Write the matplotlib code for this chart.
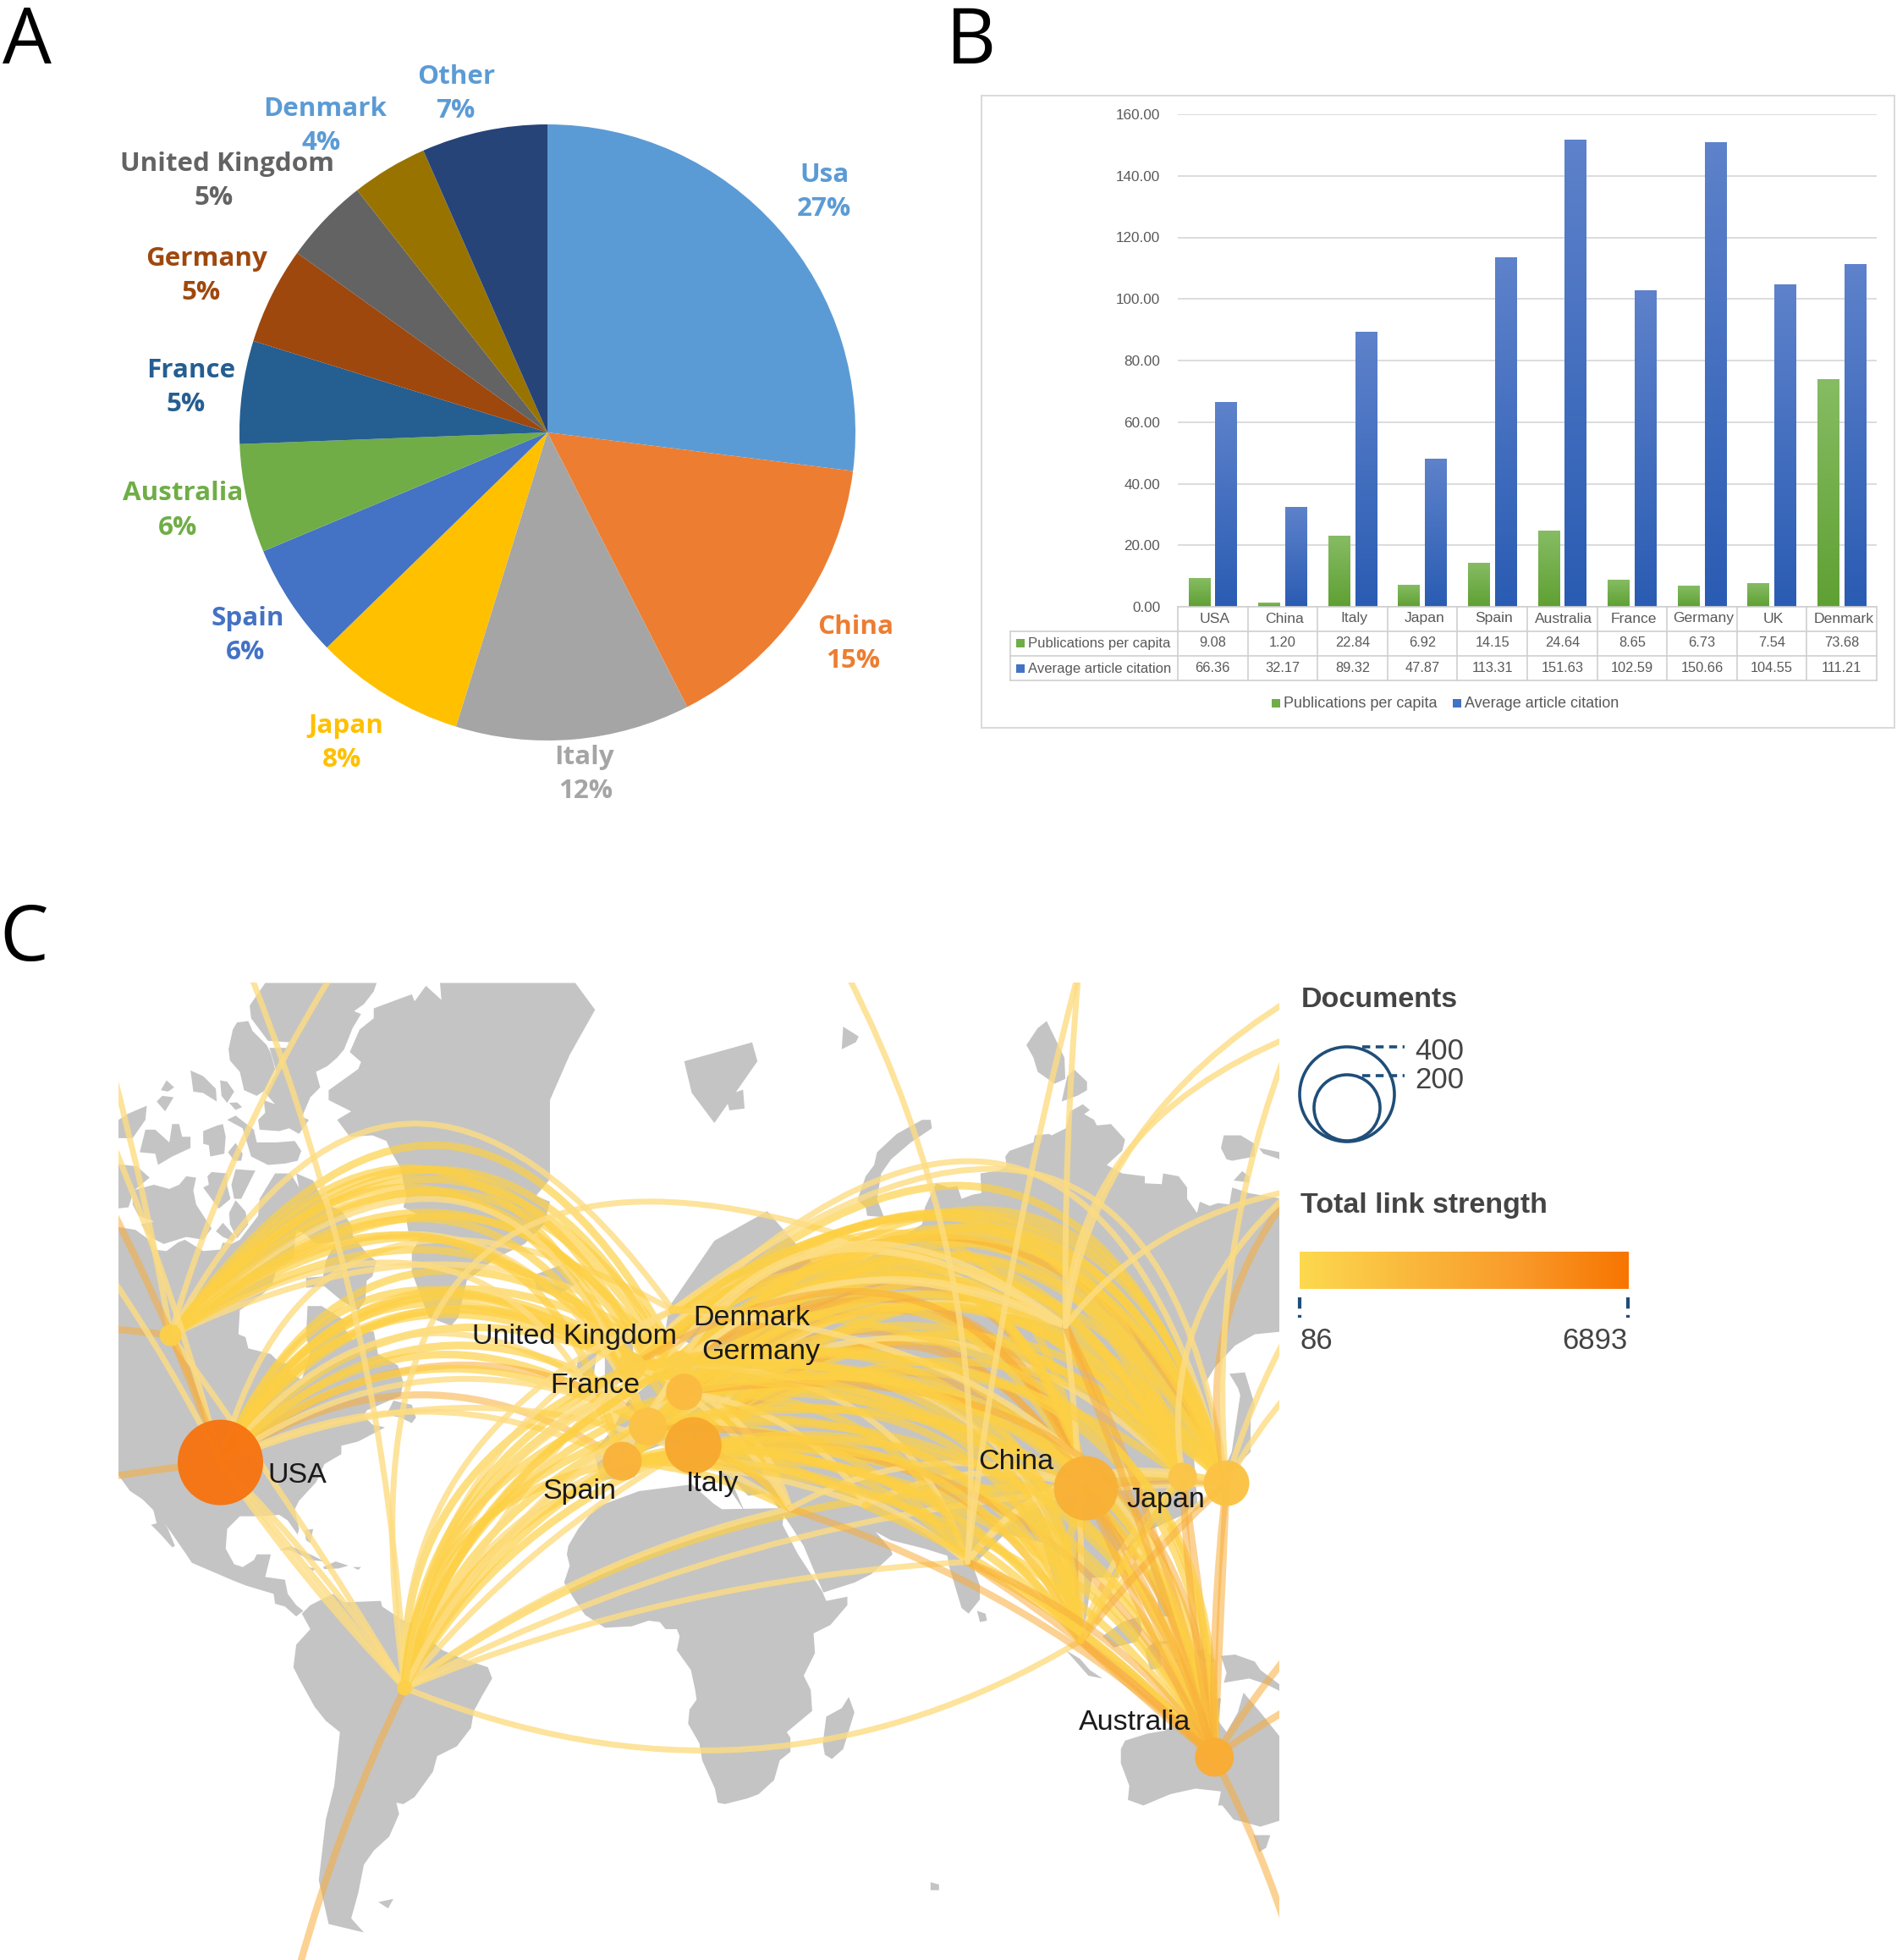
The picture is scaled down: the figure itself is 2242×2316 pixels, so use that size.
import numpy as np
import matplotlib
matplotlib.use("Agg")
import matplotlib.pyplot as plt
from matplotlib.path import Path
from matplotlib.patches import PathPatch, Polygon, Circle, Rectangle
from matplotlib.colors import LinearSegmentedColormap

W, H = 2242, 2316
plt.rcParams['font.family'] = ['Liberation Sans', 'DejaVu Sans']

# Panel A
pie_names = ['Usa', 'China', 'Italy', 'Japan', 'Spain', 'Australia', 'France', 'Germany',
             'United Kingdom', 'Denmark', 'Other']
pie_shares = [27.0, 15.5, 12.3, 7.9, 6.0, 5.7, 5.4, 5.1, 4.5, 4.0, 6.6]
pie_labels = [27, 15, 12, 8, 6, 6, 5, 5, 5, 4, 7]
pie_colors = ['#5B9BD5', '#ED7D31', '#A5A5A5', '#FFC000', '#4472C4', '#70AD47', '#255E91',
              '#9E480E', '#636363', '#997300', '#264478']
pie_label_colors = ['#5B9BD5', '#ED7D31', '#A5A5A5', '#FFC000', '#4472C4', '#70AD47', '#255E91',
                    '#9E480E', '#636363', '#5B9BD5', '#5B9BD5']
pie_name_xy = [(974, 207), (1011, 741), (690, 895), (409, 858), (293, 731), (216, 583),
               (226, 438), (244, 306), (268, 194), (384, 129), (539, 91)]
pie_pct_xy = [(974, 247), (1008, 781), (692, 935), (404, 898), (290, 771), (210, 624),
              (220, 478), (238, 346), (253, 234), (380, 169), (538, 131)]

# Panel B
countries = ['USA', 'China', 'Italy', 'Japan', 'Spain', 'Australia', 'France', 'Germany', 'UK', 'Denmark']
pubs_per_capita = [9.08, 1.20, 22.84, 6.92, 14.15, 24.64, 8.65, 6.73, 7.54, 73.68]
avg_citation = [66.36, 32.17, 89.32, 47.87, 113.31, 151.63, 102.59, 150.66, 104.55, 111.21]


def crop(ox, oy, pts):
    return [((ox + x / 3 - 130) / 0.893, (oy + y / 3 - 1150) / 0.744) for x, y in pts]


def a(pts):
    return crop(140, 1160, pts)


def b(pts):
    return crop(140, 1650, pts)


def c(pts):
    return crop(1010, 1160, pts)


def d(pts):
    return crop(1010, 1800, pts)


def e(pts):
    return crop(600, 1780, pts)


land_polys = [
    # north america
    a([(-60, 870), (0, 870), (60, 880), (115, 920), (125, 950), (170, 955), (210, 925), (235, 915), (300, 955),
       (360, 950), (370, 925), (400, 930), (430, 915), (495, 830), (500, 770), (555, 680), (610, 680), (640, 730),
       (630, 680), (690, 705), (730, 790), (790, 810), (830, 870), (830, 900), (885, 970), (915, 990), (900, 1045),
       (880, 1060), (875, 1130), (850, 1165), (790, 1130), (730, 1080), (665, 1085), (665, 1050), (725, 1045),
       (735, 990), (770, 920), (700, 930), (660, 895), (630, 880), (620, 980), (560, 1020), (545, 1070), (520, 1100),
       (480, 1130), (430, 1165), (425, 1250), (450, 1260), (460, 1300), (540, 1320), (570, 1350), (610, 1355),
       (610, 1390), (650, 1410), (680, 1310), (665, 1260), (670, 1150), (720, 1150), (800, 1200), (805, 1235),
       (830, 1270), (880, 1240), (905, 1240), (920, 1320), (990, 1360), (1010, 1420), (1000, 1470)])
    + b([(960, 15), (880, 50), (870, 70), (900, 100), (945, 110), (850, 160), (790, 175), (790, 205), (730, 240),
         (700, 305), (640, 370), (625, 400), (640, 470), (635, 490), (600, 440), (570, 420), (500, 425), (430, 425),
         (385, 470), (380, 540), (410, 595), (440, 605), (480, 580), (490, 560), (540, 560), (520, 640), (590, 650),
         (600, 700), (630, 740), (655, 760), (630, 780), (590, 745), (555, 735), (550, 700), (450, 670), (400, 650),
         (260, 590), (240, 560), (185, 480), (140, 420), (85, 365), (40, 335), (0, 280), (-60, 280)]),
    b([(120, 390), (135, 400), (175, 470), (200, 530), (190, 535), (150, 490), (115, 455), (135, 450)]),
    b([(950, 65), (975, 15), (1040, 30), (1055, 75), (1040, 95), (1000, 75)]),
    b([(570, 545), (610, 530), (680, 560), (730, 585), (680, 580), (610, 545)]),
    b([(725, 605), (770, 585), (815, 600), (780, 610), (730, 612)]),
    b([(668, 605), (700, 610), (690, 618)]),
    b([(830, 605), (860, 605), (850, 615)]),
    b([(660, 475), (690, 470), (680, 520), (665, 510)]),
    # south america
    b([(680, 740), (760, 700), (800, 730), (930, 725), (935, 745), (1010, 795), (1060, 810), (1085, 850), (1150, 900),
       (1220, 930), (1310, 960), (1325, 1000), (1290, 1060), (1260, 1115), (1250, 1175), (1200, 1240), (1130, 1275),
       (1115, 1330), (1050, 1420), (1010, 1445), (985, 1440), (995, 1480), (960, 1560), (905, 1610), (870, 1660),
       (850, 1760), (825, 1850), (870, 1900), (745, 1870), (710, 1715), (735, 1500), (765, 1380), (785, 1190),
       (735, 1150), (695, 1100), (640, 1000), (620, 960), (630, 880), (680, 825), (650, 770)]),
    # greenland
    a([(905, 95), (905, 130), (855, 170), (820, 250), (860, 285), (850, 310), (745, 385), (745, 420), (825, 460),
       (775, 490), (820, 550), (900, 545), (950, 565), (965, 600), (1000, 660), (1020, 760), (1010, 800), (1060, 825),
       (1020, 840), (1030, 900), (1070, 905), (1040, 960), (1040, 1030), (1070, 1110), (1100, 1190), (1180, 1220),
       (1205, 1190), (1235, 1060), (1340, 980), (1440, 930), (1510, 860), (1530, 780), (1480, 760), (1530, 700),
       (1530, 420), (1600, 260), (1690, 100), (1620, 5), (1140, 5), (1145, 65), (1090, 15), (1050, 70), (1040, 45)]),
    # arctic islands
    a([(465, 85), (520, 5), (915, 5), (905, 35), (870, 80), (835, 105), (860, 115), (830, 165), (800, 240), (775, 270),
       (740, 300), (700, 320), (715, 375), (680, 410), (650, 480), (675, 490), (640, 540), (605, 520), (570, 530),
       (500, 525), (495, 490), (520, 465), (515, 420), (555, 435), (520, 395), (560, 320), (535, 235), (595, 235),
       (605, 215), (530, 210), (470, 130)]),
    a([(390, 240), (405, 170), (420, 145), (460, 140), (475, 175), (525, 225), (540, 255), (555, 310), (520, 385),
       (490, 405), (445, 385), (430, 320), (395, 280)]),
    a([(150, 385), (170, 350), (197, 375), (175, 390)]),
    a([(135, 425), (155, 405), (195, 410), (165, 460)]),
    a([(255, 315), (300, 335), (345, 380), (348, 425), (300, 395), (265, 390)]),
    a([(360, 350), (385, 355), (410, 390), (385, 430), (365, 405)]),
    a([(392, 430), (420, 428), (438, 445), (415, 455)]),
    a([(-60, 530), (30, 470), (100, 440), (95, 490), (50, 555), (-60, 555)]),
    a([(75, 605), (95, 525), (130, 525), (180, 570), (190, 505), (215, 505), (225, 550), (255, 550), (255, 590),
       (190, 620), (140, 650), (130, 610)]),
    a([(300, 530), (350, 510), (370, 505), (380, 550), (375, 610), (325, 620), (320, 580), (300, 575)]),
    a([(385, 490), (415, 475), (480, 525), (490, 570), (560, 570), (625, 565), (648, 600), (635, 635), (590, 645),
       (530, 650), (470, 620), (440, 520)]),
    a([(388, 605), (415, 572), (440, 610), (435, 635), (410, 635)]),
    a([(50, 740), (125, 720), (180, 735), (215, 720), (240, 690), (275, 695), (265, 740), (275, 790), (330, 875),
       (300, 915), (240, 905), (160, 930), (110, 905), (80, 860), (125, 850), (70, 830), (50, 790)]),
    a([(-60, 640), (65, 655), (110, 695), (55, 740), (35, 800), (-60, 810)]),
    a([(315, 690), (330, 675), (385, 680), (385, 725), (397, 770), (355, 805), (300, 730), (320, 720)]),
    a([(400, 720), (415, 665), (485, 670), (435, 770), (410, 770)]),
    a([(392, 820), (415, 775), (450, 815), (460, 860), (420, 910), (395, 860)]),
    a([(345, 885), (370, 855), (415, 905), (405, 920), (370, 905)]),
    # iceland, svalbard and the like
    [(560, 480), (600, 462), (622, 490), (592, 512), (565, 502)],
    [(760, 140), (790, 130), (850, 110), (857, 140), (800, 238), (770, 190)],
    [(815, 195), (838, 185), (840, 215), (820, 218)],
    c([(-40, 160), (0, 185), (15, 195), (5, 215), (-45, 240)]),
    c([(10, 775), (40, 690), (70, 650), (80, 605), (150, 540), (240, 490), (270, 490), (275, 520), (200, 570),
       (130, 630), (95, 680), (80, 770), (105, 835), (45, 830), (40, 800)]),
    c([(610, 225), (650, 165), (682, 140), (745, 270), (748, 345), (710, 362), (650, 320), (635, 270)]),
    c([(735, 425), (755, 335), (780, 312), (825, 355), (825, 385), (790, 405)]),
    c([(1300, 590), (1310, 545), (1370, 545), (1420, 575), (1420, 620), (1340, 635), (1320, 630)]),
    c([(1435, 590), (1510, 605), (1510, 630), (1450, 610)]),
    c([(1345, 705), (1375, 672), (1400, 690), (1400, 712)]),
    # eurasia
    [(740, 530), (800, 425), (870, 378), (930, 460), (1000, 455)]
    + c([(240, 860), (250, 800), (290, 715), (335, 730), (365, 725), (380, 770), (420, 755), (450, 750), (447, 680),
         (510, 670), (540, 655), (535, 620), (550, 600), (635, 570), (640, 545), (690, 540), (700, 545), (750, 520),
         (765, 460), (810, 435), (835, 455), (815, 470), (850, 490), (860, 510), (910, 505), (960, 560), (950, 600),
         (895, 650), (950, 680), (1030, 690), (1030, 715), (1090, 718), (1095, 680), (1150, 690), (1180, 730),
         (1180, 770), (1215, 820), (1225, 780), (1260, 795), (1290, 785), (1330, 790), (1340, 730), (1400, 750),
         (1520, 770), (1520, 1240), (1420, 1250), (1350, 1290), (1280, 1365), (1245, 1422)])
    + [(1475, 755), (1435, 770), (1440, 850), (1375, 885), (1335, 925), (1335, 960), (1300, 960), (1290, 1040),
       (1250, 970), (1235, 905), (1185, 890)]
    + d([(420, 150), (445, 220), (445, 270), (405, 320), (380, 300), (335, 150), (330, 115), (250, 90), (130, 60),
         (75, 30), (130, 95), (135, 110), (60, 180), (0, 210)])
    + e([(1120, 305), (1100, 260), (1050, 140), (1000, 62)])
    + [(870, 825), (845, 830), (820, 800), (840, 855), (790, 765), (740, 745), (705, 760), (695, 800), (650, 805),
       (640, 760), (665, 725), (685, 680), (735, 630), (760, 630), (770, 590), (735, 570)],
    c([(1330, 1390), (1385, 1385), (1420, 1500), (1400, 1560), (1360, 1440)]),
    # british isles
    [(655, 600), (690, 560), (695, 640), (655, 660)],
    [(620, 610), (645, 600), (640, 640), (615, 640)],
    # japan
    [(1500, 640), (1510, 700), (1510, 760), (1465, 815), (1485, 760)],
    # africa and madagascar
    e([(320, 0), (290, 30), (250, 80), (215, 140), (210, 170), (220, 210), (200, 270), (240, 335), (275, 385),
       (345, 430), (440, 425), (500, 405), (540, 410), (560, 435), (600, 435), (610, 460), (600, 510), (650, 580),
       (665, 650), (670, 685), (645, 720), (640, 770), (680, 840), (690, 900), (735, 1000), (745, 1050), (770, 1055),
       (850, 1035), (890, 1020), (945, 970), (965, 900), (1003, 870), (1003, 820), (990, 800), (1050, 750),
       (1080, 725), (1075, 650), (1050, 600), (1090, 520), (1085, 450), (1145, 420), (1205, 350), (1205, 320),
       (1130, 335), (1115, 300), (1030, 170), (975, 65), (981, 6), (760, 10), (730, -10), (654, -78), (465, -54)]),
    e([(1130, 745), (1185, 715), (1210, 675), (1230, 730), (1190, 860), (1150, 895), (1125, 880), (1118, 840)]),
    # south east asia
    d([(435, 310), (465, 320), (470, 345), (445, 350)]),
    d([(750, 450), (800, 480), (835, 520), (880, 550), (830, 540)]),
    d([(1135, 485), (1205, 480), (1205, 490), (1140, 490)]),
    d([(880, 400), (950, 350), (1010, 330), (1020, 380), (1000, 420), (920, 440)]),
    d([(1030, 450), (1070, 415), (1120, 420), (1080, 435), (1090, 510), (1050, 520)]),
    d([(1040, 180), (1055, 150), (1085, 180), (1120, 260), (1135, 330), (1080, 330), (1075, 270)]),
    d([(760, 240), (810, 300), (800, 330), (770, 290)]),
    d([(1300, 470), (1350, 465), (1420, 490), (1440, 520), (1520, 580), (1520, 600), (1460, 570), (1400, 550),
       (1310, 565), (1320, 530)]),
    d([(1205, 450), (1245, 445), (1280, 490), (1240, 495)]),
    # australia and small ones
    d([(945, 800), (960, 770), (1040, 745), (1100, 735), (1160, 690), (1200, 620), (1300, 620), (1290, 700),
       (1320, 740), (1360, 670), (1380, 600), (1440, 670), (1520, 770), (1520, 1050), (1440, 1075), (1385, 1060),
       (1345, 1050), (1305, 1000), (1290, 1000), (1300, 950), (1210, 940), (1120, 960), (1025, 1000), (970, 980),
       (975, 930), (945, 850)]),
    d([(1415, 1105), (1475, 1105), (1460, 1150), (1435, 1165)]),
    d([(270, 1272), (300, 1280), (300, 1300), (270, 1300)]),
    [(355, 1475), (375, 1470), (368, 1485)],
]

node_xy = {'USA': (146, 777), 'CAN': (80, 575), 'BRA': (390, 1135), 'UK': (690, 625), 'DNK': (755, 620),
           'GER': (760, 665), 'FRA': (712, 720), 'ITA': (772, 750), 'ESP': (678, 775), 'NLD': (722, 640),
           'SWE': (745, 535), 'CHN': (1292, 818), 'JPN': (1478, 810), 'KOR': (1420, 800), 'AUS': (1462, 1245),
           'SGP': (1285, 1060), 'IND': (1135, 935), 'ISR': (900, 850), 'SAU': (1000, 845), 'RUS': (1265, 560),
           'T1': (185, 0), 'T2': (295, 0), 'T3': (975, 0), 'T4': (1282, 0), 'R1': (1565, 40), 'R2': (1565, 100),
           'R3': (1565, 345), 'R4': (1565, 560), 'R5': (1565, 660), 'R6': (1565, 1075), 'R7': (1565, 1165),
           'R8': (1565, 1545), 'L1': (0, 140), 'L2': (0, 260), 'L3': (0, 370), 'L4': (0, 480), 'L5': (0, 565),
           'L6': (0, 800), 'B1': (250, 1580)}
nodes_drawn = ['USA', 'CAN', 'BRA', 'UK', 'DNK', 'GER', 'FRA', 'ITA', 'ESP', 'CHN', 'JPN', 'KOR', 'AUS']
node_diam = [101, 26, 18, 34, 30, 43, 45, 67, 46, 76, 54, 34, 46]
node_colors = ['#F67411', '#FCD04A', '#FCD04A', '#FCCF4B', '#FCCF4B', '#FBBB40', '#FBC245', '#F7A92F',
               '#FAB33B', '#F9B136', '#FBC243', '#FBC548', '#FAAD33']
map_labels = [('United Kingdom', 615, 578), ('Denmark', 849, 548), ('Germany', 862, 601), ('France', 642, 655),
              ('USA', 248, 798), ('Spain', 621, 823), ('Italy', 797, 811), ('China', 1199, 776),
              ('Japan', 1398, 837), ('Australia', 1357, 1190)]

# links: from, to, bulge, strength (1 pale, 2 stronger, 3 orange)
links_usa = [('USA', 'UK', .55, 2), ('USA', 'DNK', .72, 2), ('USA', 'GER', .6, 2), ('USA', 'NLD', .58, 2),
             ('USA', 'FRA', .5, 2), ('USA', 'ITA', .45, 3), ('USA', 'ESP', .4, 3), ('USA', 'SWE', .72, 1),
             ('USA', 'ISR', .32, 1), ('USA', 'UK', .7, 2), ('USA', 'GER', .5, 2), ('USA', 'FRA', .62, 1),
             ('USA', 'ITA', .55, 2), ('USA', 'ESP', .3, 1), ('USA', 'BRA', .05, 1), ('USA', 'BRA', .0, 1),
             ('USA', 'BRA', -.04, 1), ('USA', 'CAN', .05, 3), ('USA', 'UK', .62, 2), ('USA', 'NLD', .66, 2),
             ('USA', 'GER', .67, 2), ('USA', 'DNK', .62, 2), ('USA', 'FRA', .42, 2), ('USA', 'ITA', .38, 1)]
links_can = [('CAN', 'UK', .85, 2), ('CAN', 'DNK', .96, 2), ('CAN', 'GER', .9, 2), ('CAN', 'NLD', .8, 2),
             ('CAN', 'FRA', .72, 1), ('CAN', 'ITA', .78, 2), ('CAN', 'ESP', .68, 1), ('CAN', 'SWE', .95, 1),
             ('CAN', 'ISR', .56, 1), ('CAN', 'UK', .6, 2), ('CAN', 'GER', .7, 2), ('CAN', 'DNK', .8, 2),
             ('CAN', 'ITA', .62, 2), ('CAN', 'FRA', .9, 1), ('CAN', 'BRA', .02, 1), ('CAN', 'NLD', .92, 2),
             ('CAN', 'ESP', .82, 2), ('CAN', 'UK', .95, 2), ('CAN', 'GER', .8, 2), ('CAN', 'FRA', .8, 2)]
links_bra = [('BRA', 'UK', .32, 2), ('BRA', 'DNK', .3, 2), ('BRA', 'GER', .26, 2), ('BRA', 'NLD', .28, 1),
             ('BRA', 'FRA', .22, 2), ('BRA', 'ITA', .18, 2), ('BRA', 'ESP', .22, 1), ('BRA', 'SWE', .32, 1),
             ('BRA', 'UK', .2, 1), ('BRA', 'ITA', .1, 1), ('BRA', 'GER', .14, 1), ('BRA', 'CHN', .2, 2),
             ('BRA', 'ISR', .12, 1), ('BRA', 'IND', .1, 1), ('BRA', 'SGP', -.3, 1), ('BRA', 'JPN', .14, 1),
             ('BRA', 'UK', .08, 1), ('BRA', 'T1', .07, 1), ('BRA', 'B1', .04, 3), ('BRA', 'RUS', 1.0, 1),
             ('BRA', 'ESP', .38, 2), ('BRA', 'FRA', .3, 2), ('BRA', 'NLD', .2, 2), ('BRA', 'DNK', .22, 2),
             ('BRA', 'ITA', .26, 2), ('BRA', 'GER', .34, 2), ('BRA', 'SWE', .24, 1), ('BRA', 'ESP', .14, 2),
             ('BRA', 'FRA', .15, 1), ('BRA', 'UK', .26, 2)]
links_asia = [('UK', 'JPN', .95, 2), ('UK', 'CHN', 1.0, 2), ('DNK', 'JPN', .82, 2), ('DNK', 'CHN', .82, 2),
              ('GER', 'JPN', .85, 2), ('GER', 'CHN', .9, 3), ('GER', 'KOR', .78, 2), ('NLD', 'JPN', .72, 2),
              ('NLD', 'CHN', .72, 3), ('NLD', 'KOR', .85, 2), ('FRA', 'JPN', .62, 2), ('FRA', 'CHN', .68, 3),
              ('FRA', 'KOR', .7, 2), ('ITA', 'JPN', .58, 2), ('ITA', 'CHN', .58, 3), ('ITA', 'KOR', .62, 2),
              ('ESP', 'JPN', .52, 2), ('ESP', 'CHN', .5, 2), ('ESP', 'KOR', .56, 1), ('SWE', 'JPN', .62, 2),
              ('SWE', 'CHN', .52, 2), ('UK', 'KOR', .72, 2), ('UK', 'JPN', .74, 3), ('GER', 'JPN', .68, 2),
              ('ITA', 'JPN', .72, 2), ('FRA', 'JPN', .82, 2), ('UK', 'RUS', .52, 1), ('GER', 'RUS', .5, 2),
              ('ITA', 'RUS', .45, 1), ('UK', 'JPN', 1.05, 1), ('DNK', 'KOR', .9, 2), ('CHN', 'JPN', .08, 3),
              ('CHN', 'KOR', .1, 2), ('KOR', 'JPN', .1, 2), ('IND', 'CHN', .2, 1), ('SAU', 'CHN', .25, 1),
              ('SWE', 'KOR', .78, 2), ('GER', 'JPN', .92, 2), ('NLD', 'JPN', .8, 2), ('NLD', 'CHN', .86, 2),
              ('DNK', 'JPN', .92, 2), ('DNK', 'CHN', .7, 3), ('UK', 'CHN', .85, 2), ('UK', 'KOR', .88, 2),
              ('GER', 'CHN', .75, 3), ('GER', 'KOR', .66, 2), ('FRA', 'CHN', .82, 2), ('FRA', 'KOR', .56, 2),
              ('ITA', 'CHN', .74, 3), ('ITA', 'KOR', .76, 2), ('ITA', 'JPN', .46, 2), ('ESP', 'CHN', .64, 2),
              ('ESP', 'JPN', .66, 2), ('ESP', 'KOR', .42, 2), ('SWE', 'JPN', .75, 2), ('SWE', 'CHN', .66, 2),
              ('UK', 'JPN', .84, 2), ('NLD', 'KOR', .72, 2), ('NLD', 'RUS', .62, 1), ('FRA', 'RUS', .7, 1),
              ('DNK', 'RUS', .4, 1), ('ESP', 'RUS', .55, 1), ('SWE', 'JPN', .95, 1), ('UK', 'CHN', .68, 3)]
links_aus = [('UK', 'AUS', .6, 2), ('DNK', 'AUS', .5, 2), ('GER', 'AUS', .46, 2), ('NLD', 'AUS', .5, 2),
             ('FRA', 'AUS', .45, 2), ('ITA', 'AUS', .38, 2), ('ESP', 'AUS', .38, 2), ('SWE', 'AUS', .42, 1),
             ('UK', 'SGP', .6, 2), ('GER', 'SGP', .52, 2), ('FRA', 'SGP', .44, 2), ('ITA', 'SGP', .38, 3),
             ('ESP', 'SGP', .36, 2), ('DNK', 'SGP', .5, 1), ('UK', 'IND', .42, 1), ('GER', 'IND', .38, 2),
             ('ITA', 'IND', .26, 2), ('FRA', 'IND', .32, 2), ('ESP', 'IND', .24, 1), ('ITA', 'SAU', .14, 2),
             ('GER', 'SAU', .25, 1), ('ESP', 'SAU', .1, 1), ('ITA', 'ISR', .15, 3), ('ESP', 'ISR', .12, 2),
             ('FRA', 'ISR', .18, 2), ('UK', 'ISR', .28, 1), ('GER', 'ISR', .1, 1), ('CHN', 'AUS', .03, 3),
             ('CHN', 'AUS', .12, 3), ('JPN', 'AUS', .0, 3), ('KOR', 'AUS', .02, 3), ('SGP', 'AUS', .08, 3),
             ('CHN', 'SGP', .05, 3), ('IND', 'AUS', .1, 2), ('ISR', 'AUS', .12, 3), ('SAU', 'AUS', .12, 2),
             ('KOR', 'SGP', .12, 1), ('JPN', 'SGP', .1, 1), ('JPN', 'IND', .4, 1), ('KOR', 'IND', .35, 1),
             ('CHN', 'ISR', .28, 1), ('CHN', 'SGP', .18, 2), ('RUS', 'AUS', .06, 3), ('RUS', 'SGP', .03, 1),
             ('UK', 'AUS', .5, 2), ('DNK', 'AUS', .6, 2), ('GER', 'AUS', .56, 3), ('NLD', 'AUS', .4, 2),
             ('FRA', 'AUS', .55, 2), ('FRA', 'AUS', .35, 3), ('ITA', 'AUS', .48, 2), ('ITA', 'AUS', .3, 2),
             ('ESP', 'AUS', .46, 2), ('ESP', 'AUS', .3, 2), ('SWE', 'AUS', .52, 2), ('UK', 'SGP', .5, 2),
             ('GER', 'SGP', .62, 2), ('NLD', 'SGP', .56, 2), ('NLD', 'SGP', .46, 2), ('FRA', 'SGP', .54, 2),
             ('ITA', 'SGP', .48, 2), ('ITA', 'SGP', .28, 2), ('ESP', 'SGP', .46, 2), ('ESP', 'SGP', .28, 2),
             ('JPN', 'AUS', .03, 3), ('CHN', 'AUS', .07, 3), ('KOR', 'AUS', -.03, 3),
             ('IND', 'AUS', .05, 3), ('SGP', 'AUS', .03, 3), ('SGP', 'AUS', -.02, 3), ('CHN', 'AUS', -.02, 3),
             ('JPN', 'SGP', .04, 3), ('KOR', 'SGP', .04, 2), ('IND', 'AUS', .16, 3), ('RUS', 'AUS', .02, 3)]
links_edge = [('T2', 'CAN', .06, 1), ('T3', 'IND', .12, 1), ('T4', 'IND', .03, 1), ('T4', 'RUS', .02, 1),
              ('UK', 'GER', .4, 2), ('USA', 'L6', .02, 3), ('CAN', 'L1', .02, 1), ('CAN', 'L5', .02, 3),
              ('USA', 'L2', .03, 1), ('USA', 'L3', .03, 3), ('USA', 'L4', .03, 1), ('RUS', 'R1', .22, 1),
              ('RUS', 'R2', .3, 1), ('JPN', 'R3', .2, 3), ('KOR', 'R3', .24, 1), ('RUS', 'R3', .2, 1),
              ('JPN', 'R4', .05, 1), ('JPN', 'R5', .05, 1), ('AUS', 'R6', .03, 3), ('AUS', 'R7', .03, 3),
              ('AUS', 'R8', .04, 3), ('R2', 'JPN', .1, 1)]
all_links = links_usa + links_can + links_bra + links_asia + links_aus + links_edge

link_styles = {1: ('#FDDD82', 0.8, 5.0), 2: ('#FDD044', 0.68, 6.5), 3: ('#F8AE3A', 0.55, 6.0)}


def gradient_bar(ax, x, width, height, top, bottom):
    cmap = LinearSegmentedColormap.from_list('g', [bottom, top])
    ax.imshow(np.linspace(0, 1, 128).reshape(-1, 1), cmap=cmap, origin='lower', aspect='auto',
              extent=(x - width / 2, x + width / 2, 0, height), zorder=3, interpolation='bilinear')


fig = plt.figure(figsize=(W / 100, H / 100), dpi=100, facecolor='white')


def px_axes(x0, y0, x1, y1):
    return fig.add_axes([x0 / W, 1 - y1 / H, (x1 - x0) / W, (y1 - y0) / H])


# Pie
ax_pie = px_axes(647 - 364, 511 - 364, 647 + 364, 511 + 364)
ax_pie.pie(pie_shares, colors=pie_colors, startangle=90, counterclock=False, radius=1,
           wedgeprops={'linewidth': 0})
ax_pie.set_xlim(-1, 1)
ax_pie.set_ylim(-1, 1)

# Bars
ax_bar = px_axes(1392, 135, 2218, 717)
xs = np.arange(len(countries))
for i in xs:
    gradient_bar(ax_bar, i - 0.192, 0.31, pubs_per_capita[i], '#86BC63', '#5FA033')
    gradient_bar(ax_bar, i + 0.192, 0.31, avg_citation[i], '#5E82CB', '#2A5CB3')
ax_bar.set_xlim(-0.5, len(countries) - 0.5)
ax_bar.set_ylim(0, 160)
ax_bar.set_yticks(np.arange(0, 161, 20))
ax_bar.set_yticklabels(['%.2f' % v for v in np.arange(0, 161, 20)], fontsize=12.3, color='#595959')
ax_bar.tick_params(axis='y', length=0, pad=15)
ax_bar.set_xticks([])
ax_bar.grid(axis='y', color='#D9D9D9', lw=1.3)
ax_bar.set_axisbelow(True)
for s in ['top', 'right', 'left', 'bottom']:
    ax_bar.spines[s].set_visible(False)

# Map
ax_map = px_axes(140, 1161, 1512, 2316)
ax_map.set_xlim(11, 1548)
ax_map.set_ylim(1567, 15)
ax_map.axis('off')
for poly in land_polys:
    ax_map.add_patch(Polygon(poly, closed=True, facecolor='#C4C4C4', edgecolor='none', zorder=1))
for src, dst, bulge, strength in all_links:
    p0 = np.array(node_xy[src], dtype=float)
    p1 = np.array(node_xy[dst], dtype=float)
    delta = p1 - p0
    perp = np.array([delta[1], -delta[0]])
    if perp[1] > 0:
        perp = -perp
    ctrl = (p0 + p1) / 2 + bulge * perp
    col, alpha, lw = link_styles[strength]
    ax_map.add_patch(PathPatch(Path([p0, ctrl, p1], [Path.MOVETO, Path.CURVE3, Path.CURVE3]), facecolor='none',
                               edgecolor=col, alpha=alpha, lw=lw, zorder=2, capstyle='round'))
ax_map.scatter([node_xy[n][0] for n in nodes_drawn], [node_xy[n][1] for n in nodes_drawn],
               s=[(dm * 0.72) ** 2 for dm in node_diam], c=node_colors, linewidths=0, zorder=4, alpha=0.97)
for name, x, y in map_labels:
    ax_map.text(x, y, name, fontsize=24.5, color='#1A1A1A', ha='center', va='center', zorder=5)

# Everything else goes on a transparent axes counted in pixels of the picture
ov = px_axes(0, 0, W, H)
ov.set_xlim(0, W)
ov.set_ylim(H, 0)
ov.axis('off')
ov.patch.set_alpha(0)

for letter, x, y in [('A', 3, 75), ('B', 1118, 75), ('C', -1, 1135)]:
    ov.text(x, y, letter, fontsize=66, color='black', family=['Open Sans', 'DejaVu Sans'], ha='left', va='baseline')

for i, name in enumerate(pie_names):
    kw = dict(fontsize=22.6, fontweight='bold', family=['Open Sans', 'DejaVu Sans'], color=pie_label_colors[i],
              ha='center', va='center')
    ov.text(*pie_name_xy[i], name, **kw)
    ov.text(*pie_pct_xy[i], '%d%%' % pie_labels[i], **kw)

# Frame, table and legend of panel B
ov.add_patch(Rectangle((1160, 113), 1079, 747, fill=False, ec='#D9D9D9', lw=1.4))
col_w = (2218 - 1392) / 10
tbl_col = '#D0D0D0'
for y in [745.5, 775, 804]:
    ov.plot([1194 if y > 746 else 1392, 2218], [y, y], color=tbl_col, lw=1.2)
ov.plot([1194, 1392], [745.5, 745.5], color=tbl_col, lw=1.2)
ov.plot([1392, 2218], [717, 717], color=tbl_col, lw=1.2)
ov.plot([1194, 1194], [745.5, 804], color=tbl_col, lw=1.2)
for k in range(11):
    ov.plot([1392 + k * col_w] * 2, [717, 804], color=tbl_col, lw=1.2)
for i in range(10):
    cx = 1392 + (i + 0.5) * col_w
    ov.text(cx + 2, 731, countries[i], fontsize=12.6, color='#595959', ha='center', va='center')
    ov.text(cx, 760, '%.2f' % pubs_per_capita[i], fontsize=11.8, color='#595959', ha='center', va='center')
    ov.text(cx, 790, '%.2f' % avg_citation[i], fontsize=11.8, color='#595959', ha='center', va='center')
for y, name, col in [(760, 'Publications per capita', '#70AD47'), (790, 'Average article citation', '#4472C4')]:
    ov.add_patch(Rectangle((1201, y - 5), 10, 10, fc=col, ec='none'))
    ov.text(1215, y, name, fontsize=12, color='#595959', ha='left', va='center')
for x, name, col in [(1503, 'Publications per capita', '#70AD47'), (1717, 'Average article citation', '#4472C4')]:
    ov.add_patch(Rectangle((x, 826), 10, 10, fc=col, ec='none'))
    ov.text(x + 14, 831, name, fontsize=13, color='#595959', ha='left', va='center')

# Legends of panel C
navy = '#1F4E79'
leg_col = '#444444'
ov.text(1538, 1190, 'Documents', fontsize=24.5, fontweight='bold', color=leg_col, ha='left', va='baseline')
ov.add_patch(Circle((1592, 1293), 56, fill=False, ec=navy, lw=2.6))
ov.add_patch(Circle((1592, 1309), 39, fill=False, ec=navy, lw=2.6))
for y, lab in [(1237, '400'), (1271, '200')]:
    ov.plot([1610, 1660], [y, y], color=navy, lw=2.6, dashes=(2.6, 1.8))
    ov.text(1672, y + 6, lab, fontsize=25, color=leg_col, ha='left', va='center')
ov.text(1537, 1433, 'Total link strength', fontsize=24.5, fontweight='bold', color=leg_col, ha='left', va='baseline')
bar_cmap = LinearSegmentedColormap.from_list('link', ['#FDD94F', '#FAB93C', '#F99A2A', '#F77500'])
ov.imshow(np.linspace(0, 1, 256).reshape(1, -1), cmap=bar_cmap, extent=(1536, 1925, 1523, 1479), aspect='auto')
ov.set_xlim(0, W)
ov.set_ylim(H, 0)
for x in [1536, 1924]:
    ov.plot([x, x], [1533, 1557], color=navy, lw=3, dashes=(3.2, 1.8))
ov.text(1537, 1594, '86', fontsize=25, color=leg_col, ha='left', va='baseline')
ov.text(1923, 1594, '6893', fontsize=25, color=leg_col, ha='right', va='baseline')

fig.savefig('out.png', dpi=100, facecolor='white')
